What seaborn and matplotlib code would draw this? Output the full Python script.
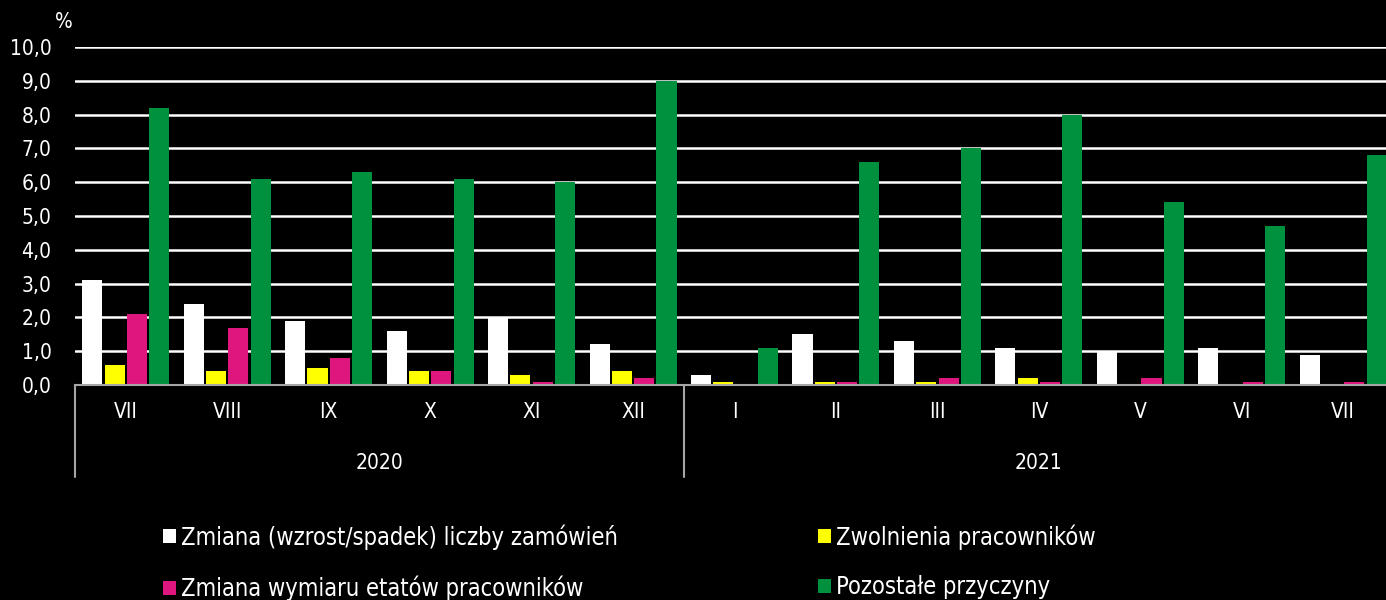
import pandas as pd
import seaborn as sns
import matplotlib.pyplot as plt
from matplotlib.patches import Patch
import matplotlib.transforms as mtransforms

# Dane
miesiace = ['VII', 'VIII', 'IX', 'X', 'XI', 'XII', 'I', 'II', 'III', 'IV', 'V', 'VI', 'VII']
lata = ['2020'] * 6 + ['2021'] * 7
serie = ['Zmiana (wzrost/spadek) liczby zamówień', 'Zwolnienia pracowników',
         'Zmiana wymiaru etatów pracowników', 'Pozostałe przyczyny']
zamowienia = [3.1, 2.4, 1.9, 1.6, 2.0, 1.2, 0.3, 1.5, 1.3, 1.1, 1.0, 1.1, 0.9]
zwolnienia = [0.6, 0.4, 0.5, 0.4, 0.3, 0.4, 0.1, 0.1, 0.1, 0.2, 0.0, 0.0, 0.0]
etaty = [2.1, 1.7, 0.8, 0.4, 0.1, 0.2, 0.0, 0.1, 0.2, 0.1, 0.2, 0.1, 0.1]
pozostale = [8.2, 6.1, 6.3, 6.1, 6.0, 9.0, 1.1, 6.6, 7.0, 8.0, 5.4, 4.7, 6.8]
kolory = ['#ffffff', '#ffff00', '#e0167f', '#00913f']

klucze = [f'{r}-{m}' for r, m in zip(lata, miesiace)]
rekordy = []
for nazwa, wartosci in zip(serie, [zamowienia, zwolnienia, etaty, pozostale]):
    for k, v in zip(klucze, wartosci):
        rekordy.append({'okres': k, 'seria': nazwa, 'wartosc': v})
df = pd.DataFrame(rekordy)

# Styl
sns.set_style('dark')
plt.rcParams['font.family'] = ['DejaVu Sans']
plt.rcParams['font.stretch'] = 'condensed'
plt.rcParams['text.color'] = 'white'

fig = plt.figure(figsize=(13.86, 6), dpi=100, facecolor='black')
ax = fig.add_axes([75 / 1386, 1 - 385 / 600, 1319 / 1386, 338 / 600])
ax.set_facecolor('black')

sns.barplot(data=df, x='okres', y='wartosc', hue='seria', order=klucze, hue_order=serie,
            palette=dict(zip(serie, kolory)), saturation=1, width=0.88, gap=0.1,
            legend=False, edgecolor='none', ax=ax)

ax.set_ylim(0, 10)
ax.set_xlim(-0.5, 12.5)
ax.set_yticks(range(11))
ax.set_yticklabels([f'{i},0' for i in range(11)], color='white', fontsize=15)
ax.set_xticks(range(13))
ax.set_xticklabels(miesiace, color='white', fontsize=15)
ax.tick_params(axis='y', length=0, pad=17)
ax.tick_params(axis='x', length=0, pad=12)
ax.set_xlabel('')
ax.set_ylabel('')
ax.set_axisbelow(True)
ax.grid(False)
for i in range(1, 11):
    ax.axhline(i, color='white', linewidth=1.8, zorder=0)

for s in ['top', 'right', 'left']:
    ax.spines[s].set_visible(False)
ax.spines['bottom'].set_color('#a6a6a6')
ax.spines['bottom'].set_linewidth(1.5)

# Oś kategorii z latami
tr = mtransforms.blended_transform_factory(ax.transData, ax.transAxes)
for x in [-0.5, 5.5]:
    ax.plot([x, x], [0, -0.272], color='#a6a6a6', linewidth=1.5, transform=tr, clip_on=False)
ax.text(2.5, -0.231, '2020', transform=tr, ha='center', va='center', fontsize=15, color='white')
ax.text(9.0, -0.231, '2021', transform=tr, ha='center', va='center', fontsize=15, color='white')

fig.text(55 / 1386, 1 - 22 / 600, '%', ha='left', va='center', fontsize=15, color='white')

# Legenda
def legenda(idx, x0):
    uchwyty = [Patch(facecolor=kolory[i], edgecolor='none', label=serie[i]) for i in idx]
    leg = fig.legend(handles=uchwyty, loc='upper left', bbox_to_anchor=(x0 / 1386, 1 - 524 / 600),
                     frameon=False, fontsize=17, handlelength=0.55, handleheight=0.55,
                     handletextpad=0.2, labelspacing=1.1, borderpad=0, borderaxespad=0)
    for t in leg.get_texts():
        t.set_color('white')
    return leg

legenda([0, 2], 163)
legenda([1, 3], 818)

fig.savefig('out.png', dpi=100, facecolor='black')
